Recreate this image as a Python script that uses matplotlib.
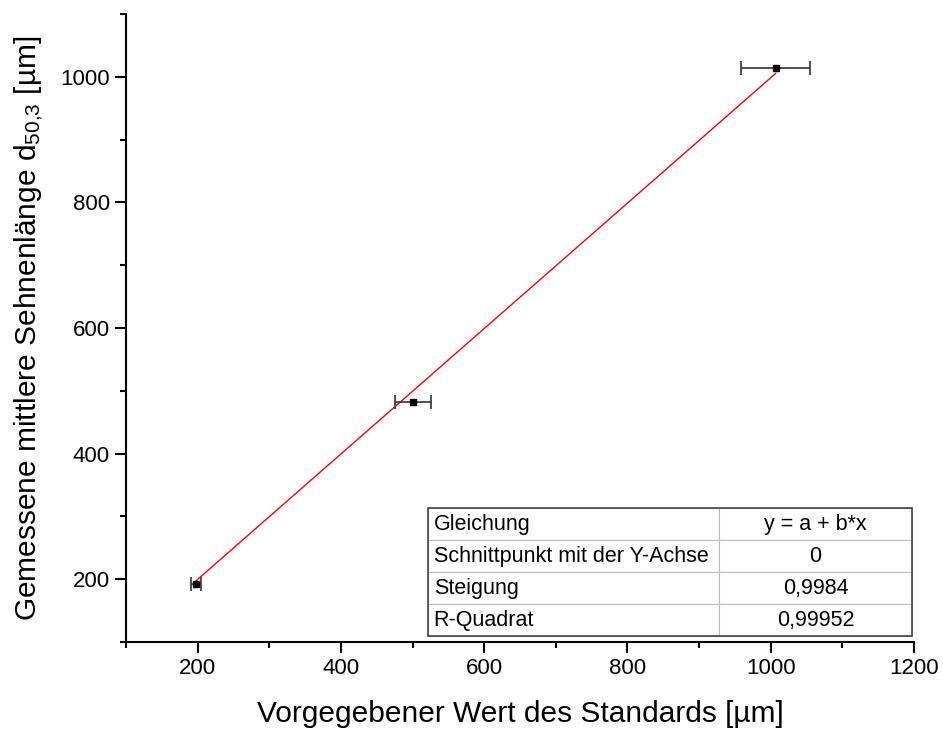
import matplotlib
matplotlib.use("Agg")
import matplotlib.pyplot as plt
import numpy as np
from matplotlib.ticker import MultipleLocator
from matplotlib.patches import Rectangle

plt.rcParams['font.family'] = ['Liberation Sans', 'DejaVu Sans']
plt.rcParams['mathtext.fontset'] = 'custom'
plt.rcParams['mathtext.rm'] = 'Liberation Sans'
plt.rcParams['mathtext.it'] = 'Liberation Sans'
plt.rcParams['mathtext.default'] = 'regular'

# Data
x_vals = [198, 501, 1007]
y_vals = [193, 482, 1014]
x_err = [7, 25, 48]
intercept = 0.0
slope = 0.9984
table_rows = [["Gleichung", "y = a + b*x"],
              ["Schnittpunkt mit der Y-Achse", "0"],
              ["Steigung", "0,9984"],
              ["R-Quadrat", "0,99952"]]
x_ticks = [200, 400, 600, 800, 1000, 1200]
y_ticks = [200, 400, 600, 800, 1000]

fig = plt.figure(figsize=(9.43, 7.35), dpi=100)
ax = fig.add_axes([0.1336, 0.1265, 0.8356, 0.8545])

xf = np.array([min(x_vals), max(x_vals)])
ax.plot(xf, intercept + slope * xf, color='red', lw=1.0, zorder=2)
ax.errorbar(x_vals, y_vals, xerr=x_err, fmt='s', color='black', ms=4,
            ecolor='#333333', elinewidth=1.2, capsize=5, capthick=1.2, zorder=3)

ax.set_xlim(100, 1200)
ax.set_ylim(100, 1100)
ax.set_xticks(x_ticks)
ax.set_yticks(y_ticks)
ax.xaxis.set_minor_locator(MultipleLocator(100))
ax.yaxis.set_minor_locator(MultipleLocator(100))
ax.tick_params(which='major', direction='out', length=8, width=1.5, labelsize=16)
ax.tick_params(which='minor', direction='out', length=4, width=1.5)
for s in ['top', 'right']:
    ax.spines[s].set_visible(False)
for s in ['left', 'bottom']:
    ax.spines[s].set_linewidth(1.5)

ax.set_xlabel("Vorgegebener Wert des Standards [µm]", fontsize=21.5, labelpad=15)
ax.set_ylabel(r"Gemessene mittlere Sehnenlänge d$_{50{,}3}$ [µm]", fontsize=21.5, labelpad=11)

tbl = ax.table(cellText=table_rows, colWidths=[291, 193],
               cellLoc='center', bbox=[0.383, 0.0096, 0.6145, 0.2035])
tbl.auto_set_font_size(False)
tbl.set_fontsize(15.5)
for (r, c), cell in tbl.get_celld().items():
    cell.set_edgecolor('#bbbbbb')
    cell.set_linewidth(0.8)
    cell.set_facecolor('white')
    cell.PAD = 0.02
    if c == 0:
        cell._loc = 'left'
        cell.get_text().set_horizontalalignment('left')
    cell.get_text().set_color('black')

ax.add_patch(Rectangle((0.383, 0.0096), 0.6145, 0.2035, transform=ax.transAxes,
                       fill=False, edgecolor='#444444', lw=1.2, zorder=10))

fig.savefig("out.png", dpi=100)
